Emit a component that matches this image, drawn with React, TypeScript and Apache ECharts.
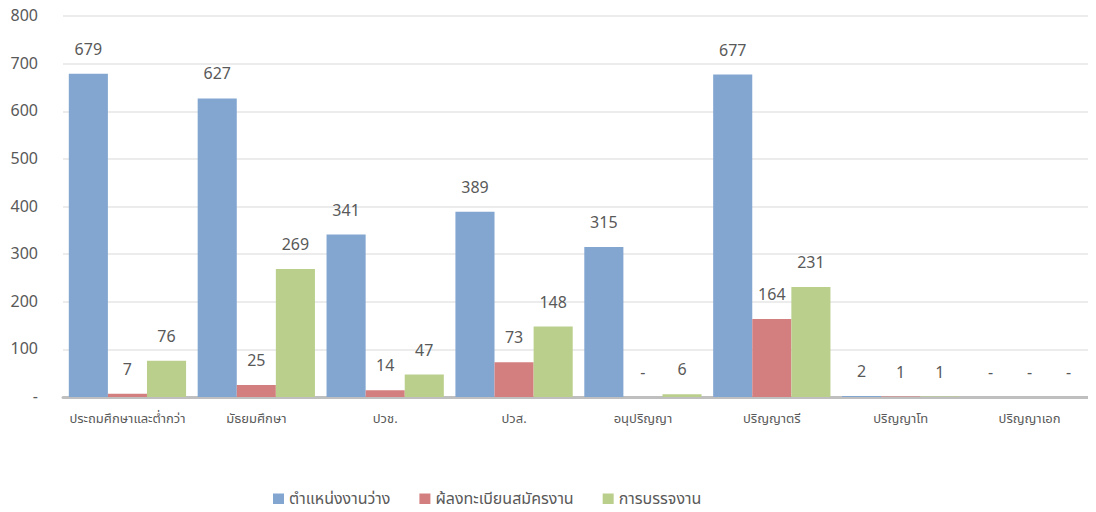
import React, { useEffect, useRef } from "react";
import * as echarts from "echarts";

const categories = [
  "ประถมศึกษาและต่ำกว่า",
  "มัธยมศึกษา",
  "ปวช.",
  "ปวส.",
  "อนุปริญญา",
  "ปริญญาตรี",
  "ปริญญาโท",
  "ปริญญาเอก",
];
const seriesNames = ["ตำแหน่งงานว่าง", "ผู้ลงทะเบียนสมัครงาน", "การบรรจุงาน"];
const vacancies = [679, 627, 341, 389, 315, 677, 2, 0];
const applicants = [7, 25, 14, 73, 0, 164, 1, 0];
const placements = [76, 269, 47, 148, 6, 231, 1, 0];
const colors = ["#82a6d0", "#d47f7f", "#bacf8c"];

const FONT = "'Noto Sans Thai', 'Noto Sans', 'DejaVu Sans', sans-serif";

export default function App() {
  const ref = useRef<HTMLDivElement>(null);
  useEffect(() => {
    const chart = echarts.init(ref.current!, undefined, { renderer: "svg" });
    const mk = (name: string, data: number[], color: string) => ({
      name,
      type: "bar",
      data,
      itemStyle: { color },
      barGap: "0%",
      barCategoryGap: "9%",
      label: {
        show: true,
        position: "top",
        distance: 16,
        color: "#595959",
        fontSize: 16,
        fontFamily: FONT,
        formatter: (p: any) => (p.value === 0 ? "-" : String(p.value)),
      },
    });
    chart.setOption({
      animation: false,
      textStyle: { fontFamily: FONT },
      grid: { left: 63, right: 2, top: 16, bottom: 115, containLabel: false },
      legend: {
        bottom: 0,
        left: 268,
        itemWidth: 11,
        itemHeight: 11,
        itemGap: 29,
        icon: "rect",
        textStyle: { fontSize: 16, color: "#595959", fontFamily: FONT },
        data: seriesNames,
      },
      xAxis: {
        type: "category",
        data: categories,
        axisLine: { lineStyle: { color: "#bfbfbf", width: 3 } },
        axisTick: { show: false },
        axisLabel: { fontSize: 13, color: "#595959", margin: 15, fontFamily: FONT, interval: 0 },
      },
      yAxis: {
        type: "value",
        min: 0,
        max: 800,
        interval: 100,
        axisLine: { show: false },
        axisTick: { show: false },
        splitLine: { lineStyle: { color: "#ececec", width: 2 } },
        axisLabel: {
          fontSize: 16,
          color: "#595959",
          margin: 25,
          fontFamily: FONT,
          formatter: (v: number) => (v === 0 ? "-" : String(v)),
        },
      },
      series: [
        mk(seriesNames[0], vacancies, colors[0]),
        mk(seriesNames[1], applicants, colors[1]),
        mk(seriesNames[2], placements, colors[2]),
      ],
    });
    return () => chart.dispose();
  }, []);
  return <div ref={ref} style={{ width: 1096, height: 512, margin: -8 }} />;
}
